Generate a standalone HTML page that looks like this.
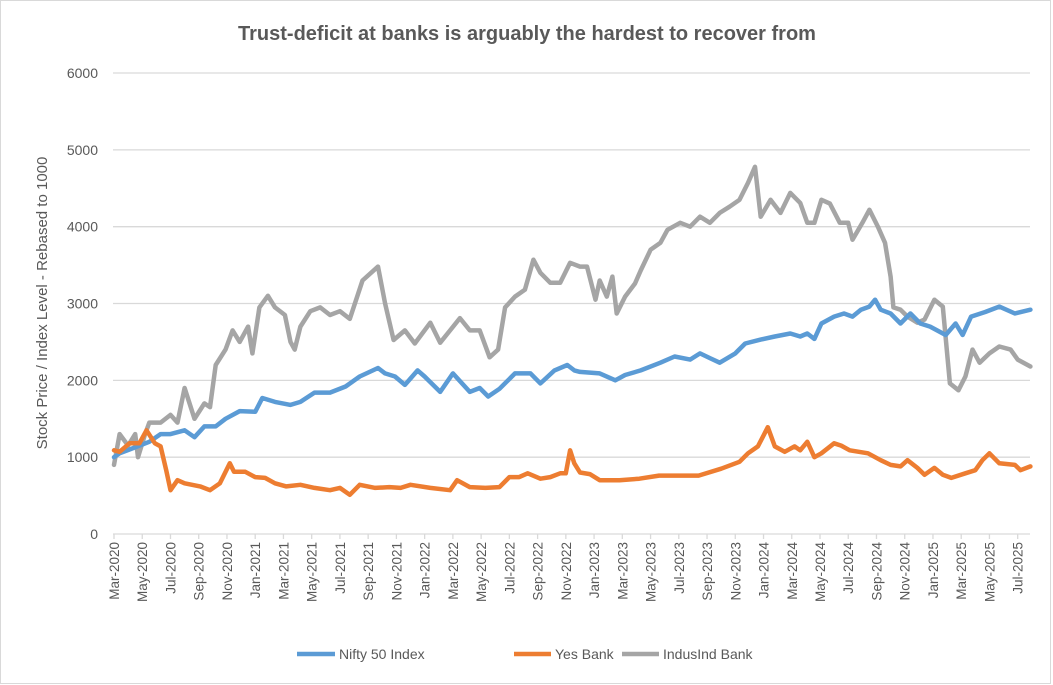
<!DOCTYPE html>
<html><head><meta charset="utf-8"><style>
body{margin:0;background:#fff}
svg{display:block;font-family:"Liberation Sans",Calibri,sans-serif}
</style></head><body>
<svg id="chart" width="1053" height="685" viewBox="0 0 1053 685">
<rect x="0.5" y="0.5" width="1050" height="683" fill="#fff" stroke="#d9d9d9"/>
<text x="527" y="40" text-anchor="middle" font-size="20" font-weight="bold" fill="#595959">Trust-deficit at banks is arguably the hardest to recover from</text>
<text transform="translate(47,303) rotate(-90)" text-anchor="middle" font-size="15" fill="#595959">Stock Price / Index Level - Rebased to 1000</text>
<g id="grid"></g><g id="xaxis"></g><g id="series"></g>
<g>
<g><line x1="297" y1="654" x2="335" y2="654" stroke="#5b9bd5" stroke-width="4.5"/><text x="339" y="659" font-size="14" fill="#595959">Nifty 50 Index</text></g>
<g><line x1="514" y1="654" x2="551" y2="654" stroke="#ed7d31" stroke-width="4.5"/><text x="555" y="659" font-size="14" fill="#595959">Yes Bank</text></g>
<g><line x1="622" y1="654" x2="659" y2="654" stroke="#a5a5a5" stroke-width="4.5"/><text x="663" y="659" font-size="14" fill="#595959">IndusInd Bank</text></g>
</g>
</svg>
<script>
const yTicks=[0,1000,2000,3000,4000,5000,6000];
const monthLabels=["Mar-2020","May-2020","Jul-2020","Sep-2020","Nov-2020","Jan-2021","Mar-2021","May-2021","Jul-2021","Sep-2021","Nov-2021","Jan-2022","Mar-2022","May-2022","Jul-2022","Sep-2022","Nov-2022","Jan-2023","Mar-2023","May-2023","Jul-2023","Sep-2023","Nov-2023","Jan-2024","Mar-2024","May-2024","Jul-2024","Sep-2024","Nov-2024","Jan-2025","Mar-2025","May-2025","Jul-2025"];
// months since Mar-2020
const indusDates=[0,0.4,1,1.5,1.7,2.2,2.5,3.3,4,4.5,5,5.7,6.4,6.8,7.2,7.9,8.4,8.9,9.5,9.8,10.3,10.9,11.4,12.1,12.5,12.8,13.2,13.9,14.6,15.3,16,16.7,17.6,18.7,19.2,19.8,20.6,21.3,22.4,23.1,23.8,24.5,25.2,25.9,26.6,27.2,27.7,28.4,29.1,29.7,30.2,30.9,31.6,32.3,33,33.5,34.1,34.4,34.9,35.3,35.6,36.2,36.9,37.3,38,38.7,39.2,40.1,40.8,41.5,42.2,42.9,43.6,44.3,44.9,45.4,45.8,46.5,47.2,47.9,48.6,49.1,49.6,50.1,50.7,51.4,52,52.3,53,53.5,54.1,54.6,55,55.2,55.7,56.2,56.9,57.4,58.1,58.7,59.2,59.8,60.3,60.8,61.3,62,62.7,63.5,64,64.9];
const indusValues=[900,1300,1150,1300,1000,1300,1450,1450,1550,1450,1900,1500,1700,1650,2200,2400,2650,2500,2700,2350,2950,3100,2950,2850,2500,2400,2700,2900,2950,2850,2900,2800,3300,3480,3000,2525,2650,2480,2750,2490,2650,2810,2650,2650,2300,2400,2950,3090,3180,3570,3400,3270,3270,3530,3480,3480,3050,3300,3090,3350,2870,3090,3260,3430,3700,3790,3960,4050,4000,4130,4050,4180,4260,4350,4570,4780,4130,4350,4180,4440,4310,4050,4050,4350,4300,4050,4050,3830,4050,4220,4000,3790,3350,2950,2920,2830,2750,2790,3050,2960,1960,1870,2050,2400,2230,2350,2440,2400,2270,2180];
const niftyDates=[0,0.4,1.1,2.5,3.3,4,5,5.7,6.4,7.2,7.9,8.9,10,10.5,11.4,12.5,13.2,14.2,15.3,16.4,17.4,18.7,19.2,19.9,20.6,21.5,22,23.1,24,25.2,25.9,26.5,27.3,28.4,29.5,30.2,31.2,32.1,32.6,33,34.4,35.5,36.2,37.3,38.7,39.7,40.8,41.5,42.2,42.9,44,44.7,45.8,46.8,47.9,48.6,49.1,49.6,50.1,51,51.7,52.3,52.9,53.5,53.9,54.3,55,55.7,56.4,57.1,57.8,58.9,59.6,60.1,60.7,61.7,62.7,63.8,64.9];
const niftyValues=[1000,1050,1100,1200,1300,1300,1350,1260,1400,1400,1500,1600,1590,1770,1720,1680,1720,1840,1840,1920,2050,2160,2090,2050,1940,2130,2050,1850,2090,1850,1900,1790,1890,2090,2090,1960,2130,2200,2130,2110,2090,2000,2070,2130,2230,2310,2270,2350,2290,2230,2350,2480,2530,2570,2610,2570,2610,2540,2740,2830,2870,2830,2920,2960,3050,2920,2870,2740,2870,2740,2700,2590,2740,2590,2830,2890,2960,2870,2920];
const yesDates=[0,0.4,1.1,1.8,2.3,2.9,3.3,3.7,4,4.5,5,6.1,6.8,7.5,8.2,8.5,9.3,10,10.7,11.4,12.2,13.2,14.2,15.3,16,16.7,17.4,18.5,19.5,20.3,21,22.4,23.8,24.3,25.2,26.3,27.3,28,28.7,29.3,30.2,30.9,31.6,32,32.3,32.6,33,33.7,34.4,35.8,37.2,38.6,40,41.4,43,44.3,44.9,45.6,46.3,46.8,47.5,48.2,48.6,49.1,49.6,50.1,51,51.5,52.1,53.4,54.3,55,55.7,56.2,56.9,57.4,58.1,58.7,59.3,60.3,61,61.5,62,62.7,63.8,64.2,64.9];
const yesValues=[1090,1070,1180,1180,1350,1180,1140,830,570,700,660,620,570,660,920,810,810,740,730,660,620,640,600,570,600,510,640,600,610,600,640,600,570,700,610,600,610,740,740,790,720,740,790,790,1090,920,800,780,700,700,720,760,760,760,850,940,1050,1140,1390,1140,1070,1140,1090,1200,1000,1050,1180,1150,1090,1050,960,900,880,960,860,770,860,770,730,790,830,960,1050,920,900,830,880];

const NS="http://www.w3.org/2000/svg";
const X0=113,X1=1030,MONTH=14.12,Y0=534,PXPER1000=76.83;
function xScale(m){return 114+m*MONTH;}
function yScale(v){return Y0-v/1000*PXPER1000;}
const svg=document.getElementById('chart');
const grid=document.getElementById('grid');
yTicks.forEach(t=>{
  if(t>0){const l=document.createElementNS(NS,'line');
  l.setAttribute('x1',X0);l.setAttribute('x2',X1);l.setAttribute('y1',yScale(t));l.setAttribute('y2',yScale(t));
  l.setAttribute('stroke','#d9d9d9');l.setAttribute('stroke-width','1.3');
  
  
  grid.appendChild(l);}
  const tx=document.createElementNS(NS,'text');
  tx.setAttribute('x',98);tx.setAttribute('y',yScale(t)+5);tx.setAttribute('text-anchor','end');
  tx.setAttribute('font-size','14');tx.setAttribute('fill','#595959');tx.textContent=t;
  
  
  grid.appendChild(tx);
});
const xa=document.getElementById('xaxis');
const ax=document.createElementNS(NS,'line');
ax.setAttribute('x1',X0);ax.setAttribute('x2',X1);ax.setAttribute('y1',Y0);ax.setAttribute('y2',Y0);
ax.setAttribute('stroke','#d9d9d9');ax.setAttribute('stroke-width','1.3');


xa.appendChild(ax);
monthLabels.forEach((lab,i)=>{
  const x=xScale(i*2);
  const t=document.createElementNS(NS,'line');
  t.setAttribute('x1',x);t.setAttribute('x2',x);t.setAttribute('y1',Y0);t.setAttribute('y2',Y0+5);
  t.setAttribute('stroke','#d9d9d9');t.setAttribute('stroke-width','1.3');
  
  
  xa.appendChild(t);
  const tx=document.createElementNS(NS,'text');
  tx.setAttribute('transform','translate('+(x+5)+','+(Y0+8)+') rotate(-90)');
  tx.setAttribute('text-anchor','end');tx.setAttribute('font-size','13.5');tx.setAttribute('fill','#595959');
  tx.textContent=lab;
  
  
  xa.appendChild(tx);
});
const sg=document.getElementById('series');
function drawLine(dates,vals,color,name){
  const p=document.createElementNS(NS,'polyline');
  p.setAttribute('points',dates.map((d,i)=>xScale(d).toFixed(1)+','+yScale(vals[i]).toFixed(1)).join(' '));
  p.setAttribute('fill','none');p.setAttribute('stroke',color);p.setAttribute('stroke-width','4.5');
  p.setAttribute('stroke-linejoin','round');p.setAttribute('stroke-linecap','round');
  
  
  sg.appendChild(p);
}
drawLine(indusDates,indusValues,'#a5a5a5','indusind-bank-line');
drawLine(niftyDates,niftyValues,'#5b9bd5','nifty-50-line');
drawLine(yesDates,yesValues,'#ed7d31','yes-bank-line');
</script>
</body></html>
